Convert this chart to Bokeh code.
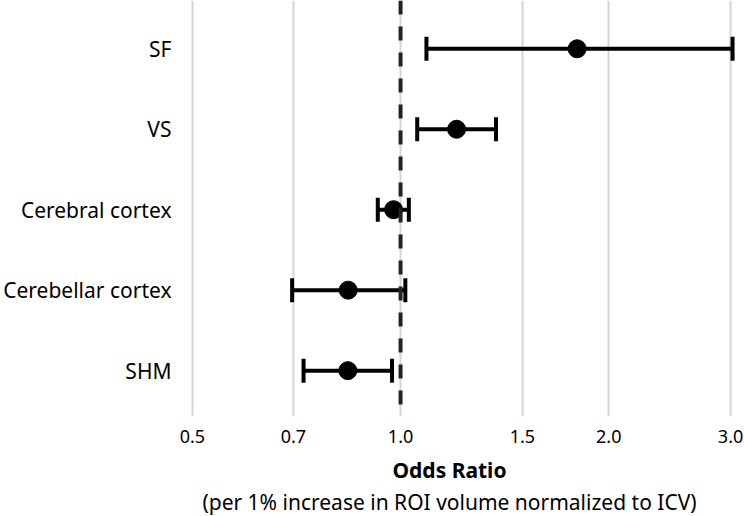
from bokeh.plotting import figure
from bokeh.models import (Range1d, FixedTicker, ColumnDataSource, Whisker, TeeHead,
                          Span, Title)
from bokeh.embed import file_html
from bokeh.resources import INLINE

# ---- data ----
regions = ["SF", "VS", "Cerebral cortex", "Cerebellar cortex", "SHM"]
odds_ratio = [1.80, 1.205, 0.977, 0.84, 0.839]
ci_lower = [1.09, 1.057, 0.927, 0.697, 0.724]
ci_upper = [3.02, 1.374, 1.028, 1.016, 0.972]
x_ticks = [0.5, 0.7, 1.0, 1.5, 2.0, 3.0]
x_tick_labels = ["0.5", "0.7", "1.0", "1.5", "2.0", "3.0"]
x_title = "Odds Ratio"
x_subtitle = "(per 1% increase in ROI volume normalized to ICV)"

n = len(regions)
ypos = [n - 1 - i for i in range(n)]  # SF on top

src = ColumnDataSource(dict(y=ypos, orr=odds_ratio, lo=ci_lower, hi=ci_upper, name=regions))

FONT = "Noto Sans"

p = figure(width=744, height=516, x_axis_type="log",
           x_range=Range1d(0.4467, 3.101), y_range=Range1d(-0.57, 4.6),
           output_backend="svg", toolbar_location=None,
           min_border_left=155, min_border_right=4, min_border_top=0, min_border_bottom=0)
p.outline_line_color = None
p.background_fill_color = "white"
p.border_fill_color = "white"

# grid
p.xgrid.ticker = FixedTicker(ticks=x_ticks)
p.xgrid.grid_line_color = "#d4d4d4"
p.xgrid.grid_line_width = 2
p.ygrid.grid_line_color = None

# x axis
p.xaxis.ticker = FixedTicker(ticks=x_ticks)
p.xaxis.major_label_overrides = {t: l for t, l in zip(x_ticks, x_tick_labels)}
p.xaxis.axis_line_color = None
p.xaxis.major_tick_line_color = None
p.xaxis.minor_tick_line_color = None
p.xaxis.major_tick_out = 0
p.xaxis.major_tick_in = 0
p.xaxis.major_label_standoff = 13
p.xaxis.major_label_text_font = FONT
p.xaxis.major_label_text_font_size = "18px"
p.xaxis.major_label_text_color = "black"
p.xaxis.axis_label = x_title
p.xaxis.axis_label_text_font = FONT
p.xaxis.axis_label_text_font_style = "bold"
p.xaxis.axis_label_text_font_size = "21px"
p.xaxis.axis_label_text_color = "black"
p.xaxis.axis_label_standoff = 10

# y axis
p.yaxis.ticker = FixedTicker(ticks=ypos)
p.yaxis.major_label_overrides = {y: r for y, r in zip(ypos, regions)}
p.yaxis.axis_line_color = None
p.yaxis.major_tick_line_color = None
p.yaxis.minor_tick_line_color = None
p.yaxis.major_tick_out = 0
p.yaxis.major_tick_in = 0
p.yaxis.major_label_standoff = -13
p.yaxis.major_label_text_font = FONT
p.yaxis.major_label_text_font_size = "21px"
p.yaxis.major_label_text_color = "black"

# reference line at OR = 1
p.add_layout(Span(location=1.0, dimension="height", line_color="#222222",
                  line_width=4, line_dash="14 12"))

# error bars
w = Whisker(source=src, base="y", lower="lo", upper="hi", dimension="width",
            line_color="black", line_width=4,
            lower_head=TeeHead(size=24, line_width=4, line_color="black"),
            upper_head=TeeHead(size=24, line_width=4, line_color="black"))
p.add_layout(w)

p.scatter(x="orr", y="y", source=src, size=18, color="black")

sub = Title(text=x_subtitle, align="center", vertical_align="middle",
            text_font=FONT, text_font_size="21px", text_font_style="normal",
            text_color="black", standoff=0)
p.add_layout(sub, "below")

open("out.html", "w").write(file_html(p, INLINE))
